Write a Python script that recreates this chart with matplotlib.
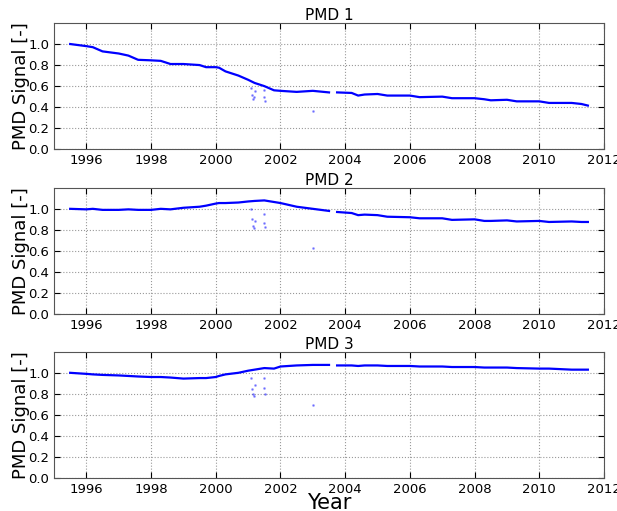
import numpy as np
import matplotlib
matplotlib.use('Agg')
import matplotlib.pyplot as plt

# main signal (nan = data gap)
years = [1995.5, 1996.0, 1996.2, 1996.5, 1997.0, 1997.3, 1997.6, 1998.0, 1998.3, 1998.6,
         1999.0, 1999.5, 1999.7, 2000.0, 2000.1, 2000.3, 2000.7, 2001.0, 2001.2, 2001.5,
         2001.8, 2002.0, 2002.5, 2003.0, 2003.5, 2003.6, 2003.75, 2004.2, 2004.4, 2004.6,
         2005.0, 2005.3, 2006.0, 2006.3, 2007.0, 2007.3, 2008.0, 2008.3, 2008.5, 2009.0,
         2009.3, 2010.0, 2010.3, 2011.0, 2011.3, 2011.5]

pmd1 = [1.00, 0.98, 0.97, 0.93, 0.91, 0.89, 0.85, 0.845, 0.84, 0.81,
        0.81, 0.80, 0.78, 0.78, 0.775, 0.74, 0.70, 0.66, 0.63, 0.60,
        0.56, 0.555, 0.545, 0.555, 0.54, np.nan, 0.54, 0.535, 0.51, 0.52,
        0.525, 0.51, 0.51, 0.495, 0.50, 0.485, 0.485, 0.475, 0.465, 0.47,
        0.455, 0.455, 0.44, 0.44, 0.43, 0.415]

pmd2 = [1.00, 0.995, 1.0, 0.99, 0.99, 0.995, 0.99, 0.99, 1.0, 0.995,
        1.01, 1.02, 1.03, 1.05, 1.055, 1.055, 1.06, 1.07, 1.075, 1.08,
        1.065, 1.055, 1.02, 1.0, 0.98, np.nan, 0.97, 0.96, 0.94, 0.945,
        0.94, 0.925, 0.92, 0.91, 0.91, 0.895, 0.90, 0.885, 0.885, 0.89,
        0.88, 0.885, 0.875, 0.88, 0.875, 0.875]

pmd3 = [1.00, 0.99, 0.985, 0.98, 0.975, 0.97, 0.965, 0.96, 0.96, 0.955,
        0.945, 0.95, 0.95, 0.96, 0.97, 0.985, 1.0, 1.02, 1.03, 1.045,
        1.04, 1.06, 1.07, 1.075, 1.075, np.nan, 1.07, 1.07, 1.065, 1.07,
        1.07, 1.065, 1.065, 1.06, 1.06, 1.055, 1.055, 1.05, 1.05, 1.05,
        1.045, 1.04, 1.04, 1.03, 1.03, 1.03]

# stray points (degraded measurements)
out_x = [2001.10, 2001.12, 2001.15, 2001.18, 2001.20, 2001.48, 2001.50, 2001.52, 2003.0]
out1 = [0.58, 0.52, 0.48, 0.50, 0.55, 0.56, 0.50, 0.46, 0.36]
out2 = [1.0, 0.90, 0.84, 0.82, 0.88, 0.95, 0.87, 0.83, 0.63]
out3 = [0.95, 0.85, 0.80, 0.78, 0.88, 0.95, 0.86, 0.80, 0.69]

fig = plt.figure(figsize=(6.17, 5.11), dpi=100)
left = 0.0875
width = 0.979 - 0.0875
bottoms = [0.708, 0.3855, 0.0646]
height = 0.247

series = [(pmd1, out1), (pmd2, out2), (pmd3, out3)]
for i, (vals, outs) in enumerate(series):
    ax = fig.add_axes([left, bottoms[i], width, height])
    ax.plot(years, vals, '-', color='#0000ff', lw=1.6)
    ax.plot(out_x, outs, '.', color='#0000ff', ms=2, alpha=0.35)
    ax.set_xlim(1995, 2012)
    ax.set_ylim(0, 1.2)
    ax.set_xticks(range(1996, 2013, 2))
    ax.set_yticks([0.0, 0.2, 0.4, 0.6, 0.8, 1.0])
    ax.yaxis.set_major_formatter(matplotlib.ticker.FormatStrFormatter('%.1f'))
    ax.tick_params(direction='in', labelsize=9.5, length=4, top=True, right=True)
    ax.grid(True, linestyle=':', color='#999999', lw=0.8)
    for s in ax.spines.values():
        s.set_color('#555555')
    ax.set_title('PMD %d' % (i + 1), fontsize=11, pad=2)
    ax.set_ylabel('PMD Signal [-]', fontsize=13, labelpad=-1)
    if i == 2:
        ax.set_xlabel('Year', fontsize=15, labelpad=-2)

plt.savefig('out.png', dpi=100)
